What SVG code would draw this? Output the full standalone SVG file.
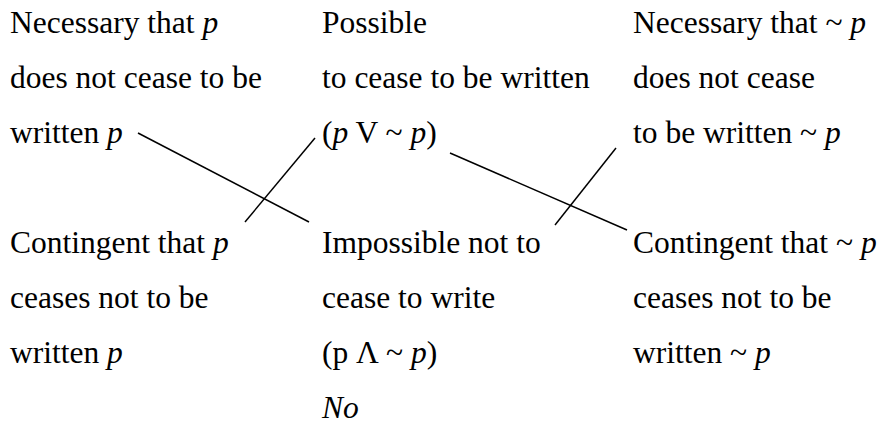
<svg xmlns="http://www.w3.org/2000/svg" width="882" height="426" viewBox="0 0 882 426">
<style>
text{font-family:'Liberation Serif','Times New Roman',serif;font-size:31.5px;fill:#000}
.i{font-style:italic}
line{stroke:#000;stroke-width:1.5}
</style>
<rect width="882" height="426" fill="#fff"/>
<g id="nec-p">
<text x="10" y="33">Necessary that <tspan class="i">p</tspan></text>
<text x="10" y="88">does not cease to be</text>
<text x="10" y="143">written <tspan class="i">p</tspan></text>
</g>
<g id="possible">
<text x="322" y="33">Possible</text>
<text x="322" y="88">to cease to be written</text>
<text x="322" y="143">(<tspan class="i">p</tspan> V ~ <tspan class="i">p</tspan>)</text>
</g>
<g id="nec-not-p">
<text x="633" y="33">Necessary that ~ <tspan class="i">p</tspan></text>
<text x="633" y="88">does not cease</text>
<text x="633" y="143">to be written ~ <tspan class="i">p</tspan></text>
</g>
<g id="cont-p">
<text x="10" y="253">Contingent that <tspan class="i">p</tspan></text>
<text x="10" y="308">ceases not to be</text>
<text x="10" y="363">written <tspan class="i">p</tspan></text>
</g>
<g id="impossible">
<text x="322" y="253">Impossible not to</text>
<text x="322" y="308">cease to write</text>
<text x="322" y="363">(p Λ ~ <tspan class="i">p</tspan>)</text>
<text x="322" y="418" class="i">No</text>
</g>
<g id="cont-not-p">
<text x="633" y="253">Contingent that ~ <tspan class="i">p</tspan></text>
<text x="633" y="308">ceases not to be</text>
<text x="633" y="363">written ~ <tspan class="i">p</tspan></text>
</g>
<g id="connectors">
<line x1="138" y1="133" x2="309" y2="222"/>
<line x1="245" y1="222" x2="315" y2="138"/>
<line x1="450" y1="153" x2="627" y2="230"/>
<line x1="555" y1="225" x2="616" y2="148"/>
</g>
</svg>
